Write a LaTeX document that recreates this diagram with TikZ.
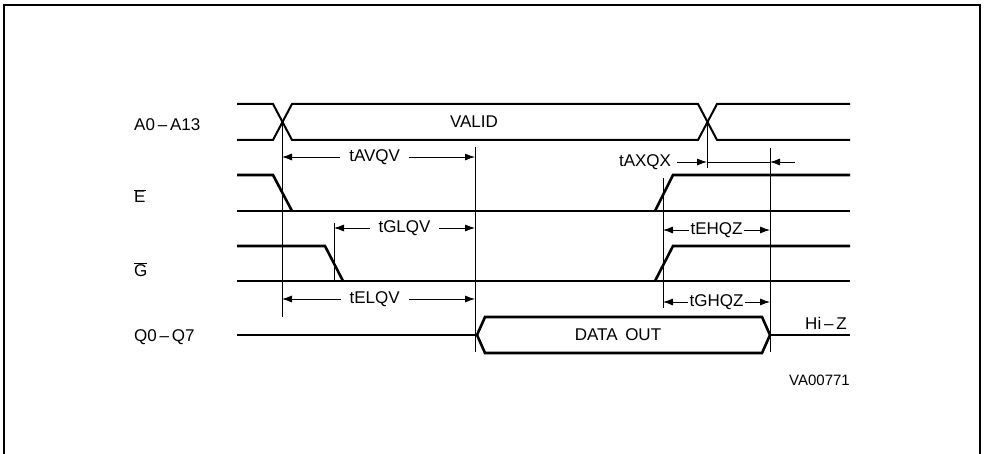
\documentclass[tikz,border=0pt]{standalone}
\usepackage{fontspec}
\setmainfont{Liberation Sans}
\usetikzlibrary{arrows.meta}
\newcommand{\ovl}[1]{$\overline{\hbox{#1}}$}

\tikzset{
  bus/.style={line width=2pt},
  sig/.style={line width=2.6pt},
  guide/.style={line width=0.8pt},
  dim/.style={line width=0.8pt,{Latex[length=10pt,width=7pt]}-{Latex[length=10pt,width=7pt]}},
  dimr/.style={line width=0.8pt,-{Latex[length=10pt,width=7pt]}},
  diml/.style={line width=0.8pt,{Latex[length=10pt,width=7pt]}-},
  lbl/.style={font=\fontsize{17}{20}\selectfont,inner sep=1pt},
  dimlbl/.style={lbl,fill=white,inner xsep=9pt},
  sname/.style={lbl,anchor=west}
}

\begin{document}
\begin{tikzpicture}[x=1pt,y=-1pt]
\useasboundingbox (0,0) rectangle (984,454);

\draw[line width=1.8pt] (4,454) -- (4,5) -- (980,5) -- (980,454);

% signal names
\node[sname] (nA) at (133,125) {A0\,–\,A13};
\node[sname] (nE) at (133,196) {\ovl{E}};
\node[sname] (nG) at (133,270) {\ovl{G}};
\node[sname] (nQ) at (133,337) {Q0\,–\,Q7};

% address bus
\draw[bus] (237,104) -- (273,104) -- (292,140) -- (698,140) -- (717,104) -- (850,104);
\draw[bus] (237,140) -- (273,140) -- (292,104) -- (698,104) -- (717,140) -- (850,140);
\node[lbl] (valid) at (474,122) {VALID};

% chip enable
\draw[sig] (237,175) -- (273,175) -- (292,211);
\draw[sig] (655,211) -- (673,175) -- (850,175);
\draw[sig] (237,211) -- (850,211);

% output enable
\draw[sig] (237,246) -- (325,246) -- (343,281);
\draw[sig] (655,281) -- (673,246) -- (850,246);
\draw[sig] (237,281) -- (850,281);

% data out
\draw[sig] (237,335) -- (477,335);
\draw[sig] (477,335) -- (485,317) -- (762,317) -- (770,335) -- (762,353) -- (485,353) -- cycle;
\draw[bus] (770,335) -- (850,335);
\node[lbl] (dout) at (618,335) {DATA\, OUT};
\node[lbl] (hiz) at (826,323) {Hi\,–\,Z};
\node[lbl,font=\fontsize{15}{18}\selectfont,anchor=east] (fig) at (851,380) {VA00771};

% timing marks
\foreach \n/\x/\ya/\yb in {ta/282/122/317, tv/475/147/352, tg/334/223/280,
                            tx/707/122/168, tz/770/148/352, te/663/178/308}{
  \coordinate (\n) at (\x,\ya);
  \draw[guide] (\n) -- (\x,\yb);}

\coordinate (rAV) at (0,157);
\coordinate (rGL) at (0,228);
\coordinate (rEL) at (0,299);
\coordinate (rEH) at (0,230);
\coordinate (rGH) at (0,302);

\draw[dim] (ta |- rAV) -- node[dimlbl,pos=0.48] (lAVQV) {tAVQV} (tv |- rAV);
\draw[dim] (tg |- rGL) -- node[dimlbl] (lGLQV) {tGLQV} (tv |- rGL);
\draw[dim] (ta |- rEL) -- node[dimlbl,pos=0.48] (lELQV) {tELQV} (tv |- rEL);
\draw[dim] (te |- rEH) -- node[dimlbl,inner xsep=2pt] (lEHQZ) {tEHQZ} (tz |- rEH);
\draw[dim] (te |- rGH) -- node[dimlbl,inner xsep=2pt] (lGHQZ) {tGHQZ} (tz |- rGH);

\node[lbl,inner xsep=6pt] (lAXQX) at (645,162) {tAXQX};
\coordinate (axr) at (795,162);
\draw[dimr] (lAXQX.east) -- (tx |- lAXQX.east);
\draw[guide] (tx |- lAXQX.east) -- (tz |- lAXQX.east);
\draw[diml] (tz |- axr) -- (axr);
\end{tikzpicture}
\end{document}
